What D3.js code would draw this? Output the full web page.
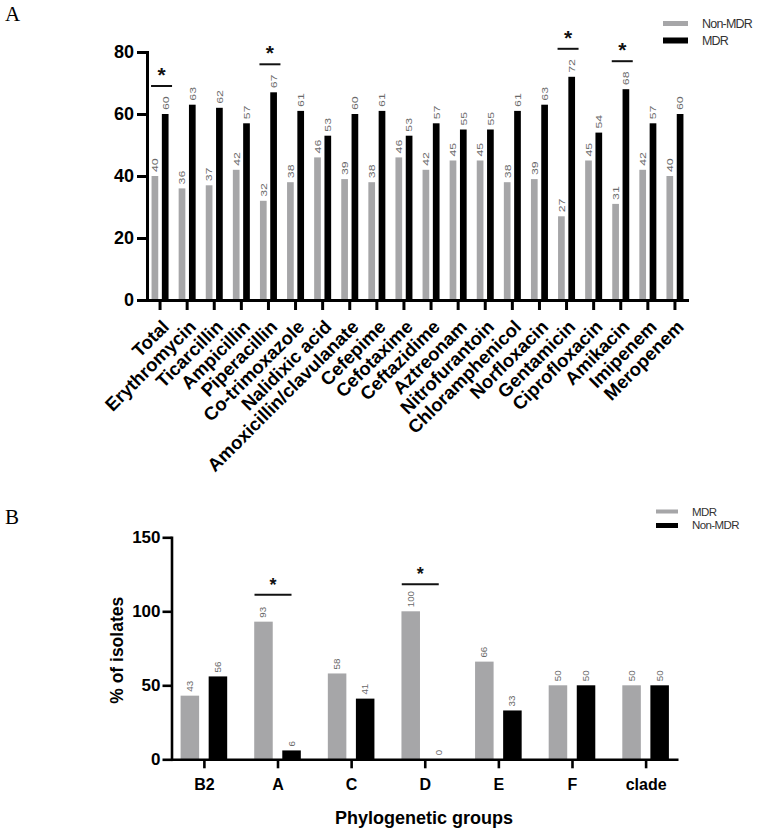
<!DOCTYPE html>
<html>
<head>
<meta charset="utf-8">
<script src="https://cdn.jsdelivr.net/npm/d3@7/dist/d3.min.js"></script>
<style>
body { margin: 0; background: #fff; }
svg { display: block; font-family: "Liberation Sans", Arial, sans-serif; }
</style>
</head>
<body>
<div class="chart"></div>
<script>
// ---- Panel A data: resistance (%) per antibiotic
const drugs = ["Total", "Erythromycin", "Ticarcillin", "Ampicillin", "Piperacillin",
  "Co-trimoxazole", "Nalidixic acid", "Amoxicillin/clavulanate", "Cefepime", "Cefotaxime",
  "Ceftazidime", "Aztreonam", "Nitrofurantoin", "Chloramphenicol", "Norfloxacin",
  "Gentamicin", "Ciprofloxacin", "Amikacin", "Imipenem", "Meropenem"];
const nonMdrA = [40, 36, 37, 42, 32, 38, 46, 39, 38, 46, 42, 45, 45, 38, 39, 27, 45, 31, 42, 40];
const mdrA = [60, 63, 62, 57, 67, 61, 53, 60, 61, 53, 57, 55, 55, 61, 63, 72, 54, 68, 57, 60];
const seriesA = ["Non-MDR", "MDR"];
const sigA = ["Total", "Piperacillin", "Gentamicin", "Amikacin"];
const ticksA = [0, 20, 40, 60, 80];

// ---- Panel B data: % of isolates per phylogenetic group
const groups = ["B2", "A", "C", "D", "E", "F", "clade"];
const mdrB = [43, 93, 58, 100, 66, 50, 50];
const nonMdrB = [56, 6, 41, 0, 33, 50, 50];
const seriesB = ["MDR", "Non-MDR"];
const sigB = ["A", "D"];
const ticksB = [0, 50, 100, 150];

const gray = "#a6a6a8";
const black = "#000";
const labelGray = "#6a6a6a";

const svg = d3.select(".chart").append("svg")
  .attr("width", 757)
  .attr("height", 830);

// panel letters
svg.append("text").attr("x", 5).attr("y", 21)
  .style("font-family", "'Liberation Serif', 'Times New Roman', serif")
  .attr("font-size", 21).text("A");
svg.append("text").attr("x", 5).attr("y", 524)
  .style("font-family", "'Liberation Serif', 'Times New Roman', serif")
  .attr("font-size", 21).text("B");

// ================= Panel A =================
const rowsA = drugs.map((d, i) => ({cat: d, vals: [
  {s: "Non-MDR", v: nonMdrA[i]}, {s: "MDR", v: mdrA[i]}]}));

const xA = d3.scaleBand().domain(drugs).range([146.5, 688.5]);
const innerA = d3.scaleBand().domain(seriesA).range([-8.5, 8.5]).paddingInner(0.35);
const yA = d3.scaleLinear().domain([0, 80]).range([300, 52]);
const colorA = d3.scaleOrdinal().domain(seriesA).range([gray, black]);

const gA = svg.append("g");
const groupA = gA.selectAll(".grp").data(rowsA).join("g")
  .attr("transform", d => `translate(${xA(d.cat) + xA.bandwidth() / 2},0)`);

groupA.selectAll("rect").data(d => d.vals).join("rect")
  .attr("x", d => innerA(d.s))
  .attr("width", innerA.bandwidth())
  .attr("y", d => yA(d.v))
  .attr("height", d => yA(0) - yA(d.v))
  .attr("fill", d => colorA(d.s));

groupA.selectAll(".val").data(d => d.vals).join("text")
  .attr("class", "val")
  .attr("transform", d => `translate(${innerA(d.s) + innerA.bandwidth() / 2},${yA(d.v) - 4}) rotate(-90) scale(1.3,1)`)
  .attr("dy", "0.35em")
  .attr("font-size", 9.5)
  .attr("fill", labelGray)
  .text(d => d.v);

// y axis
const gyA = gA.append("g").attr("transform", "translate(147,0)")
  .call(d3.axisLeft(yA).tickValues(ticksA).tickSize(10).tickPadding(3).tickSizeOuter(0));
gyA.select(".domain").attr("stroke-width", 3).attr("stroke-linecap", "square");
gyA.selectAll(".tick line").attr("stroke-width", 3);
gyA.selectAll(".tick text").attr("font-size", 18).attr("font-weight", "bold")
  .style("font-family", "'Liberation Sans', Arial, sans-serif");

// x axis
const gxA = gA.append("g").attr("transform", `translate(0,${yA(0)})`)
  .call(d3.axisBottom(xA).tickSize(10).tickSizeOuter(0));
gxA.select(".domain").attr("stroke-width", 3);
gxA.selectAll(".tick line").attr("stroke-width", 3);
gxA.selectAll(".tick text")
  .attr("y", 0).attr("dy", 0)
  .attr("text-anchor", "end")
  .attr("transform", "translate(10,28) rotate(-45)")
  .attr("font-size", 18.5).attr("font-weight", "bold")
  .style("font-family", "'Liberation Sans', Arial, sans-serif");

// significance marks
const sigRowsA = rowsA.filter(d => sigA.includes(d.cat));
const sA = gA.selectAll(".sig").data(sigRowsA).join("g")
  .attr("transform", d => `translate(${xA(d.cat) + xA.bandwidth() / 2 + 1.5},${yA(d3.max(d.vals, v => v.v)) - 28})`);
sA.append("line").attr("x1", -10.5).attr("x2", 10.5)
  .attr("stroke", "#111").attr("stroke-width", 2);
sA.append("text").attr("y", -4).attr("text-anchor", "middle")
  .attr("font-size", 21).attr("font-weight", "bold").attr("fill", "#111").text("*");

// legend
const legA = gA.selectAll(".leg").data(seriesA).join("g")
  .attr("transform", (d, i) => `translate(663,${23.5 + i * 17})`);
legA.append("rect").attr("y", (d, i) => -2.5 - i * 0.5).attr("width", 25)
  .attr("height", (d, i) => 5 + i).attr("fill", d => colorA(d));
legA.append("text").attr("x", 39).attr("dy", "0.36em")
  .attr("font-size", 12.5).attr("letter-spacing", -0.8).attr("fill", "#333")
  .text(d => d);

// ================= Panel B =================
const rowsB = groups.map((g, i) => ({cat: g, vals: [
  {s: "MDR", v: mdrB[i]}, {s: "Non-MDR", v: nonMdrB[i]}]}));

const xB = d3.scalePoint().domain(groups).range([171.5, 678]).padding(0.44);
const innerB = d3.scaleBand().domain(seriesB).range([-23.3, 23.3]).paddingInner(0.34);
const yB = d3.scaleLinear().domain([0, 150]).range([759.3, 537.3]);
const colorB = d3.scaleOrdinal().domain(seriesB).range([gray, black]);

const gB = svg.append("g");
const groupB = gB.selectAll(".grp").data(rowsB).join("g")
  .attr("transform", d => `translate(${xB(d.cat)},0)`);

groupB.selectAll("rect").data(d => d.vals).join("rect")
  .attr("x", d => innerB(d.s))
  .attr("width", innerB.bandwidth())
  .attr("y", d => yB(d.v))
  .attr("height", d => yB(0) - yB(d.v))
  .attr("fill", d => colorB(d.s));

groupB.selectAll(".val").data(d => d.vals).join("text")
  .attr("class", "val")
  .attr("transform", d => `translate(${innerB(d.s) + innerB.bandwidth() / 2},${yB(d.v) - 4}) rotate(-90) scale(1.15,1)`)
  .attr("dy", "0.35em")
  .attr("font-size", 8.5)
  .attr("fill", labelGray)
  .text(d => d.v);

// y axis
const gyB = gB.append("g").attr("transform", "translate(171.5,0)")
  .call(d3.axisLeft(yB).tickValues(ticksB).tickSize(9).tickPadding(2).tickSizeOuter(0));
gyB.select(".domain").attr("stroke-width", 2.6).attr("stroke-linecap", "square");
gyB.selectAll(".tick line").attr("stroke-width", 2.6);
gyB.selectAll(".tick text").attr("font-size", 17).attr("font-weight", "bold")
  .style("font-family", "'Liberation Sans', Arial, sans-serif");

// x axis
const gxB = gB.append("g").attr("transform", `translate(0,${yB(0)})`)
  .call(d3.axisBottom(xB).tickSize(9).tickPadding(10).tickSizeOuter(0));
gxB.select(".domain").attr("stroke-width", 2.6);
gxB.selectAll(".tick line").attr("stroke-width", 2.6);
gxB.selectAll(".tick text").attr("font-size", 16).attr("font-weight", "bold")
  .style("font-family", "'Liberation Sans', Arial, sans-serif");

// axis titles
gB.append("text")
  .attr("transform", `translate(123,${(yB(0) + yB(150)) / 2 + 2}) rotate(-90)`)
  .attr("text-anchor", "middle")
  .attr("font-size", 17.5).attr("font-weight", "bold")
  .text("% of isolates");
gB.append("text")
  .attr("x", 424).attr("y", 824)
  .attr("text-anchor", "middle")
  .attr("font-size", 18).attr("font-weight", "bold")
  .text("Phylogenetic groups");

// significance marks
const sigRowsB = rowsB.filter(d => sigB.includes(d.cat));
const sB = gB.selectAll(".sig").data(sigRowsB).join("g")
  .attr("transform", d => `translate(${xB(d.cat) - 4.5},${yB(d3.max(d.vals, v => v.v)) - 27})`);
sB.append("line").attr("x1", -18.5).attr("x2", 18.5)
  .attr("stroke", "#111").attr("stroke-width", 2);
sB.append("text").attr("y", -4).attr("text-anchor", "middle")
  .attr("font-size", 18).attr("font-weight", "bold").attr("fill", "#111").text("*");

// legend
const legB = gB.selectAll(".leg").data(seriesB).join("g")
  .attr("transform", (d, i) => `translate(656,${511.5 + i * 13.5})`);
legB.append("rect").attr("y", -2).attr("width", 22)
  .attr("height", (d, i) => 4 + i).attr("fill", d => colorB(d));
legB.append("text").attr("x", 36).attr("dy", "0.36em")
  .attr("font-size", 11.5).attr("letter-spacing", -0.6).attr("fill", "#333")
  .text(d => d);
</script>
</body>
</html>
